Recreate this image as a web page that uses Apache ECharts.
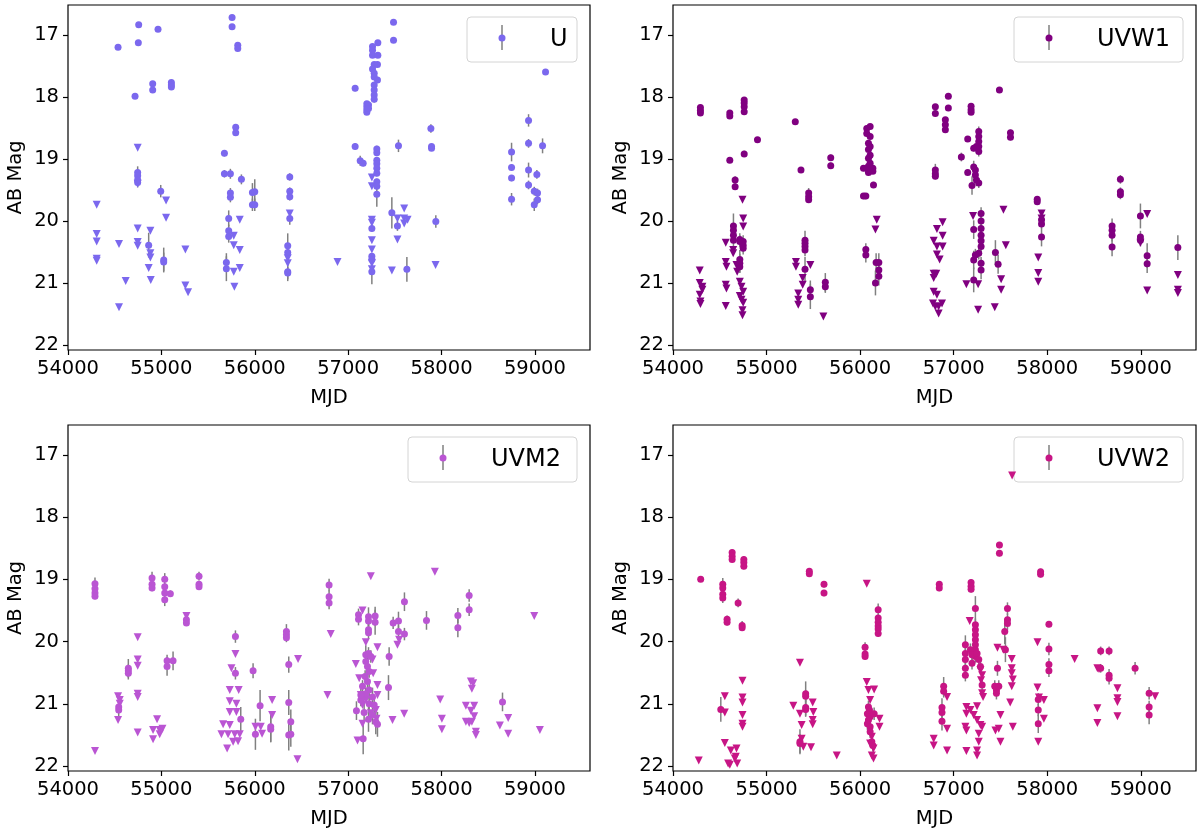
<!DOCTYPE html>
<html>
<head>
<meta charset="utf-8">
<script src="https://cdn.jsdelivr.net/npm/echarts@6/dist/echarts.min.js"></script>
<style>
  html, body { margin: 0; padding: 0; background: #fff; }
  #chart { width: 1200px; height: 835px; }
</style>
</head>
<body>
<div id="chart"></div>
<script>
// tick labels
var xTicks = [54000, 55000, 56000, 57000, 58000, 59000];
var yTicks = [17, 18, 19, 20, 21, 22];

// detections: [MJD, mag, err]   upper limits: [MJD, mag]
var U_DET = [
  [54536,17.20,0.03],[54757,16.84,0.03],[54753,17.13,0.03],[54964,16.91,0.03],[54718,17.99,0.04],
  [54907,17.79,0.04],[54907,17.89,0.04],[55107,17.77,0.03],[55107,17.81,0.03],[55107,17.84,0.03],
  [55757,16.72,0.03],[55757,16.87,0.03],[55818,17.17,0.03],[55818,17.22,0.03],[55796,18.49,0.04],
  [55796,18.58,0.04],[55675,18.91,0.05],[55675,19.24,0.06],[55739,19.24,0.08],[55857,19.33,0.08],
  [54746,19.22,0.1],[54746,19.27,0.08],[54746,19.34,0.08],[54746,19.38,0.08],[54993,19.52,0.1],
  [55739,19.55,0.08],[55739,19.62,0.08],[55975,19.54,0.15],[56000,19.53,0.2],[55975,19.74,0.1],
  [56000,19.74,0.1],[56375,19.29,0.06],[56375,19.52,0.06],[56375,19.61,0.06],[56375,19.96,0.1],
  [55721,19.96,0.13],[55721,20.16,0.1],[55721,20.25,0.1],[54864,20.39,0.2],[55025,20.63,0.2],
  [55025,20.66,0.15],[55696,20.67,0.15],[55696,20.77,0.2],[56353,20.40,0.2],[56353,20.51,0.1],
  [56353,20.82,0.15],[56353,20.84,0.1],
  [57486,16.80,0.03],[57486,17.09,0.03],[57318,17.13,0.03],[57261,17.19,0.03],[57261,17.25,0.03],
  [57261,17.33,0.03],[57318,17.33,0.03],[57314,17.48,0.03],[57279,17.48,0.03],[57261,17.55,0.03],
  [57279,17.62,0.03],[57279,17.68,0.03],[57314,17.73,0.03],[57279,17.81,0.03],[57279,17.89,0.03],
  [57279,17.97,0.03],[57279,18.04,0.05],[57075,17.86,0.05],[57200,18.11,0.04],[57200,18.16,0.04],
  [57200,18.21,0.04],[57200,18.25,0.04],[57218,18.13,0.04],[57218,18.19,0.04],[57075,18.80,0.05],
  [57129,19.03,0.08],[57161,19.07,0.05],[57307,18.84,0.05],[57307,18.90,0.05],[57307,19.02,0.05],
  [57307,19.08,0.05],[57307,19.15,0.05],[57307,19.23,0.05],[57307,19.37,0.05],[57307,19.44,0.05],
  [57307,19.57,0.2],[57539,18.79,0.1],[57886,18.51,0.07],[57893,18.80,0.04],[57893,18.83,0.04],
  [57468,19.87,0.25],[57528,20.08,0.08],[57939,20.01,0.1],[57254,20.12,0.05],[57254,20.57,0.05],
  [57254,20.62,0.05],[57254,20.82,0.2],[57629,20.78,0.2],
  [58750,18.89,0.15],[58750,19.14,0.05],[58750,19.31,0.05],[58750,19.65,0.1],[58932,18.38,0.1],
  [58932,18.75,0.07],[58932,19.18,0.12],[58932,19.42,0.07],[58993,19.52,0.07],[59028,19.55,0.07],
  [59028,19.66,0.07],[58993,19.74,0.1],[59021,19.25,0.07],[59082,18.79,0.12],[59114,17.60,0.03]
];
var U_LIM = [
  [54307,19.74],[54307,20.21],[54307,20.33],[54307,20.61],[54307,20.64],[54546,20.37],[54618,20.97],
  [54546,21.39],[54746,18.82],[54746,19.40],[54746,20.12],[54746,20.34],[54746,20.40],[54882,20.16],
  [54882,20.52],[54882,20.59],[54864,20.76],[54886,20.95],[55050,19.67],[55050,19.95],[55257,20.46],
  [55257,21.04],[55286,21.15],[55775,20.24],[55775,20.39],[55839,19.98],[55839,20.47],[55839,20.76],
  [55775,20.82],[55782,21.06],[56375,19.88],[56353,20.60],[56353,20.68],[56886,20.66],[57254,19.30],
  [57254,19.44],[57254,19.98],[57254,20.03],[57254,20.31],[57254,20.46],[57254,20.68],[57254,20.78],
  [57468,20.80],[57600,19.80],[57528,19.96],[57600,19.96],[57636,19.98],[57600,20.04],[57528,20.30],
  [57936,20.71]
];

var UVW1_DET = [
  [54293,18.17,0.03],[54293,18.22,0.03],[54293,18.26,0.03],[54607,18.26,0.03],[54607,18.31,0.03],
  [54761,18.05,0.03],[54761,18.10,0.03],[54761,18.16,0.03],[54761,18.24,0.03],[54903,18.69,0.03],
  [54607,19.02,0.04],[54761,18.92,0.05],[54664,19.34,0.06],[54664,19.45,0.05],[54646,20.08,0.2],
  [54646,20.15,0.1],[54646,20.23,0.1],[54646,20.31,0.1],[54714,20.30,0.1],[54714,20.33,0.1],
  [54750,20.33,0.1],[54750,20.39,0.1],[54750,20.44,0.1],[54714,20.62,0.15],[54714,20.68,0.15],
  [54714,20.74,0.1],[55307,18.40,0.03],[55368,19.18,0.03],[55450,19.55,0.08],[55450,19.61,0.05],
  [55450,19.66,0.05],[55686,18.98,0.05],[55686,19.11,0.05],[55411,20.31,0.15],[55411,20.36,0.1],
  [55411,20.41,0.1],[55411,20.47,0.1],[55411,20.78,0.2],[55468,21.11,0.15],[55468,21.22,0.2],
  [55628,20.99,0.15],[55628,21.06,0.1],[56036,19.15,0.05],[56071,19.15,0.05],[56036,19.60,0.05],
  [56061,19.60,0.05],[56071,18.51,0.04],[56107,18.48,0.04],[56071,18.59,0.04],[56107,18.64,0.04],
  [56089,18.75,0.04],[56107,18.80,0.04],[56089,18.85,0.04],[56107,18.94,0.04],[56089,18.99,0.04],
  [56107,19.07,0.04],[56089,19.12,0.04],[56136,19.15,0.04],[56136,19.20,0.04],[56089,19.22,0.05],
  [56143,19.42,0.05],[56061,20.46,0.1],[56061,20.55,0.12],[56164,21.00,0.2],[56171,20.67,0.15],
  [56200,20.67,0.15],[56200,20.79,0.15],[56200,20.89,0.15],
  [56804,18.16,0.04],[56804,18.27,0.04],[56943,17.99,0.03],[56943,18.18,0.03],[56911,18.37,0.04],
  [56911,18.45,0.04],[56911,18.53,0.04],[56804,19.18,0.1],[56804,19.24,0.05],[56804,19.28,0.05],
  [57186,18.15,0.04],[57186,18.21,0.04],[57186,18.25,0.04],[57150,18.68,0.04],[57268,18.56,0.08],
  [57268,18.64,0.08],[57268,18.72,0.08],[57268,18.80,0.08],[57243,18.80,0.05],[57214,18.83,0.05],
  [57268,18.88,0.08],[57082,18.97,0.07],[57150,19.22,0.04],[57214,19.13,0.1],[57232,19.18,0.08],
  [57232,19.26,0.08],[57243,19.34,0.1],[57196,19.43,0.15],[57268,19.39,0.08],[57489,17.89,0.03],
  [57607,18.58,0.05],[57607,18.65,0.05],[57893,19.65,0.05],[57893,19.69,0.05],[57939,19.98,0.07],
  [57939,20.05,0.07],[57939,20.26,0.15],[57214,20.14,0.15],[57293,19.88,0.1],[57293,20.00,0.1],
  [57293,20.12,0.1],[57293,20.23,0.1],[57293,20.32,0.1],[57293,20.41,0.1],[57268,20.52,0.1],
  [57232,20.55,0.1],[57214,20.63,0.15],[57293,20.68,0.1],[57293,20.79,0.15],[57214,20.95,0.2],
  [57446,20.51,0.2],[57475,20.70,0.15],[58693,20.08,0.12],[58693,20.15,0.1],[58693,20.23,0.1],
  [58693,20.42,0.15],[58782,19.33,0.07],[58782,19.53,0.07],[58782,19.58,0.07],[58996,19.92,0.2],
  [58996,20.26,0.1],[58996,20.31,0.1],[59068,20.56,0.2],[59068,20.69,0.15],[59396,20.43,0.2]
];
var UVW1_LIM = [
  [54286,20.80],[54286,21.00],[54314,21.06],[54314,21.11],[54286,21.19],[54293,21.30],[54293,21.34],
  [54564,20.35],[54564,20.66],[54571,20.74],[54564,21.03],[54571,21.09],[54564,21.37],[54643,20.47],
  [54643,20.52],[54679,20.71],[54686,20.82],[54743,19.66],[54750,19.96],[54750,20.09],[54714,20.98],
  [54732,21.06],[54750,21.14],[54714,21.21],[54732,21.27],[54750,21.32],[54743,21.44],[54743,21.52],
  [55314,20.66],[55314,20.74],[55339,21.17],[55339,21.27],[55339,21.35],[55386,20.92],[55386,21.03],
  [55468,20.71],[55607,21.54],[56178,19.98],[56164,20.14],
  [56882,20.02],[56821,20.13],[56882,20.24],[56786,20.32],[56821,20.41],[56882,20.41],[56821,20.54],
  [56850,20.62],[56786,20.85],[56814,20.85],[56786,20.92],[56786,21.14],[56821,21.19],[56779,21.33],
  [56804,21.38],[56839,21.38],[56839,21.49],[56875,21.33],[57136,21.02],[57207,19.92],[57261,21.02],
  [57261,21.43],[57439,21.39],[57507,20.94],[57507,21.11],[57532,19.82],[57557,20.39],[57904,20.59],
  [57904,20.84],[57904,20.98],[57939,19.88],[57939,19.96],[58996,20.35],[59068,19.89],[59068,21.12],
  [59396,20.87],[59396,21.11],[59396,21.16]
];

var UVM2_DET = [
  [54289,19.07,0.1],[54289,19.15,0.05],[54289,19.22,0.05],[54289,19.27,0.05],[54646,20.43,0.15],
  [54646,20.47,0.1],[54646,20.51,0.1],[54543,21.05,0.1],[54543,21.10,0.1],[54900,18.98,0.1],
  [54900,19.08,0.05],[54900,19.14,0.05],[55036,19.00,0.1],[55036,19.12,0.05],[55036,19.22,0.05],
  [55036,19.33,0.1],[55096,19.23,0.05],[55061,20.31,0.1],[55061,20.40,0.15],[55125,20.31,0.15],
  [55268,19.65,0.05],[55268,19.70,0.05],[55403,18.95,0.07],[55403,19.08,0.05],[55403,19.12,0.05],
  [55793,19.92,0.1],[55793,20.51,0.1],[55850,21.25,0.2],[55982,20.47,0.12],[56007,21.49,0.25],
  [56057,21.03,0.25],[56171,21.37,0.25],[56171,21.41,0.2],[56339,19.84,0.12],[56339,19.89,0.07],
  [56339,19.94,0.07],[56364,20.37,0.13],[56364,20.98,0.2],[56386,21.29,0.2],[56364,21.50,0.25],
  [56386,21.49,0.2],
  [56796,19.09,0.1],[56796,19.28,0.1],[56796,19.38,0.1],[57111,19.57,0.1],[57111,19.64,0.1],
  [57218,19.60,0.15],[57218,19.67,0.1],[57218,19.81,0.1],[57218,19.86,0.1],[57289,19.59,0.15],
  [57289,19.69,0.2],[57482,19.70,0.1],[57539,19.67,0.15],[57539,19.84,0.1],[57603,19.36,0.15],
  [57603,19.88,0.1],[57839,19.66,0.15],[58175,19.58,0.12],[58175,19.78,0.15],[58296,19.26,0.1],
  [58296,19.49,0.1],[57439,20.24,0.15],[57432,20.74,0.2],[58653,20.97,0.15],
  [57189,20.21,0.15],[57218,20.19,0.1],[57243,20.24,0.1],[57189,20.32,0.1],[57207,20.40,0.15],
  [57225,20.48,0.1],[57182,20.56,0.1],[57207,20.64,0.15],[57154,20.72,0.1],[57225,20.78,0.15],
  [57189,20.84,0.1],[57261,20.89,0.15],[57136,20.94,0.1],[57225,21.00,0.15],[57089,21.11,0.15],
  [57171,21.14,0.15],[57261,21.18,0.15],[57218,21.25,0.2],[57296,21.29,0.2],[57314,21.33,0.2],
  [57161,21.56,0.25],[57136,20.86,0.1],[57279,21.02,0.15]
];
var UVM2_LIM = [
  [54289,21.76],[54536,20.88],[54554,20.94],[54554,21.00],[54536,21.26],[54746,19.93],[54746,20.29],
  [54746,20.39],[54746,20.84],[54746,20.89],[54746,21.46],[54954,21.25],[54911,21.42],[54911,21.57],
  [54982,21.42],[55011,21.40],[54982,21.49],[55268,19.59],[55793,20.20],[55750,20.43],[55732,20.78],
  [55828,20.78],[55732,20.96],[55803,21.00],[55803,21.13],[55732,21.13],[55661,21.33],[55732,21.34],
  [55643,21.49],[55714,21.49],[55786,21.49],[55839,21.49],[55768,21.61],[55821,21.60],[55704,21.72],
  [56007,21.37],[56064,21.37],[56078,21.48],[56186,20.94],[56186,21.18],[56464,20.28],[56457,21.89],
  [56779,20.86],[56814,19.88],[57243,18.95],[57154,19.50],[57929,18.88],[58993,19.59],[57314,20.09],
  [57261,20.29],[57082,20.36],[57268,20.51],[57118,20.59],[57314,20.70],[57136,20.86],[57314,20.86],
  [57189,20.94],[57154,21.02],[57296,21.10],[57243,21.15],[57100,21.59],[57304,21.24],[57154,21.32],
  [57189,20.01],[57528,20.05],[57546,19.97],[57475,21.26],[57600,21.16],[57986,20.93],[58004,21.24],
  [58004,21.41],[58314,20.64],[58339,20.67],[58325,20.76],[58261,21.03],[58350,21.03],[58314,21.11],
  [58350,21.20],[58261,21.29],[58296,21.31],[58325,21.29],[58368,21.45],[58368,21.50],[58625,21.35],
  [58714,21.23],[58714,21.48],[59053,21.42]
];

var UVW2_DET = [
  [54296,19.00,0.03],[54532,19.08,0.1],[54532,19.14,0.05],[54532,19.24,0.05],[54532,19.30,0.08],
  [54632,18.57,0.05],[54632,18.63,0.04],[54632,18.68,0.04],[54757,18.68,0.05],[54757,18.73,0.04],
  [54757,18.79,0.05],[54696,19.38,0.07],[54578,19.64,0.06],[54578,19.69,0.05],[54739,19.74,0.07],
  [54739,19.78,0.05],[54511,21.09,0.2],[55457,18.87,0.05],[55457,18.91,0.04],[55614,19.08,0.05],
  [55614,19.22,0.05],[55418,20.84,0.2],[55418,20.88,0.1],[55418,21.06,0.15],[55418,21.09,0.1],
  [55357,21.61,0.2],[55357,21.64,0.15],[56053,20.09,0.08],[56053,20.20,0.05],[56053,20.24,0.05],
  [56193,19.49,0.1],[56193,19.62,0.05],[56193,19.69,0.05],[56193,19.75,0.05],[56193,19.80,0.05],
  [56193,19.87,0.05],[56089,21.05,0.1],[56100,21.10,0.1],[56078,21.16,0.1],[56107,21.21,0.1],
  [56089,21.26,0.1],[56078,21.32,0.1],[56107,21.37,0.1],[56107,21.45,0.1],[56125,21.61,0.1],
  [56136,21.67,0.1],[56150,21.16,0.1],
  [56846,19.08,0.05],[56846,19.14,0.05],[57186,19.05,0.05],[57186,19.11,0.05],[57186,19.16,0.05],
  [57489,18.45,0.05],[57489,18.58,0.05],[57929,18.88,0.05],[57929,18.92,0.05],[57232,19.47,0.2],
  [57232,19.73,0.1],[57232,19.81,0.1],[57232,19.89,0.1],[57232,19.97,0.1],[57232,20.05,0.1],
  [57232,20.13,0.1],[57232,20.24,0.1],[57125,20.05,0.15],[57125,20.19,0.1],[57125,20.29,0.1],
  [57125,20.43,0.1],[57125,20.54,0.1],[57179,20.13,0.1],[57196,20.21,0.1],[57196,20.35,0.1],
  [57250,20.19,0.1],[57268,20.29,0.1],[57286,20.40,0.1],[57575,19.47,0.1],[57575,19.65,0.1],
  [57575,19.71,0.1],[57546,19.84,0.2],[57468,20.43,0.12],[57439,20.72,0.1],[57457,20.78,0.1],
  [57482,20.72,0.1],[57457,20.83,0.1],[57553,20.13,0.2],[58018,19.72,0.05],[58018,20.12,0.1],
  [58018,20.37,0.1],[58018,20.47,0.1],[57904,20.93,0.1],[57904,21.10,0.1],[57904,21.32,0.15],
  [56893,20.72,0.15],[56893,20.80,0.1],[56875,21.06,0.15],[56875,21.14,0.1],[56875,21.28,0.15],
  [58571,20.15,0.07],[58661,20.15,0.07],[58571,20.43,0.07],[58661,20.54,0.1],[58661,20.59,0.1],
  [58939,20.43,0.1],[59089,20.83,0.1],[59089,21.05,0.1],[59089,21.18,0.15],[57304,20.70,0.1]
];
var UVW2_LIM = [
  [54275,21.91],[54554,20.88],[54554,21.14],[54554,21.63],[54618,21.75],[54607,21.98],[54589,21.96],
  [54679,21.72],[54671,21.85],[54686,21.96],[54661,21.88],[54743,20.63],[54743,20.90],[54743,20.98],
  [54743,21.18],[54743,21.32],[54743,21.37],[55357,20.34],[55286,21.03],[55357,21.16],[55375,21.34],
  [55375,21.56],[55393,21.69],[55493,20.98],[55500,21.13],[55493,21.26],[55493,21.33],[55475,21.70],
  [55750,21.83],[56071,19.07],[56071,20.65],[56089,20.78],[56107,20.94],[56150,20.77],[56125,21.53],
  [56107,21.64],[56143,21.72],[56125,21.83],[56143,21.88],[56207,21.24],[56207,21.37],
  [57625,17.33],[56786,21.56],[56786,21.67],[56929,20.89],[56929,21.40],[56929,21.75],[57136,21.05],
  [57136,21.16],[57125,21.37],[57136,21.43],[57136,21.76],[57171,19.67],[57179,21.10],[57214,21.18],
  [57250,21.04],[57250,21.26],[57286,21.34],[57304,21.37],[57268,21.48],[57268,21.61],[57250,21.75],
  [57250,21.83],[57286,20.46],[57304,20.54],[57293,20.62],[57304,20.83],[57314,20.89],[57468,20.10],
  [57532,20.13],[57621,20.28],[57621,20.43],[57621,20.51],[57632,20.61],[57621,20.72],[57604,20.98],
  [57500,21.18],[57482,21.40],[57446,21.43],[57500,21.61],[57632,21.37],[57896,20.01],[57896,20.74],
  [57911,20.90],[57964,20.94],[57964,21.24],[57904,21.61],[58293,20.28],[58536,20.43],[58553,20.44],
  [58536,21.07],[58536,21.31],[58750,20.75],[58750,20.91],[58750,20.97],[58750,21.20],[59153,20.88]
];

var panels = [
  { name: 'U',    color: '#7B68EE', det: U_DET,    lim: U_LIM },
  { name: 'UVW1', color: '#800080', det: UVW1_DET, lim: UVW1_LIM },
  { name: 'UVM2', color: '#BA55D3', det: UVM2_DET, lim: UVM2_LIM },
  { name: 'UVW2', color: '#C71585', det: UVW2_DET, lim: UVW2_LIM }
];

var FONT = 'DejaVu Sans';
var grids = [
  { left: 68,  top: 5,   width: 522, height: 345 },
  { left: 673, top: 5,   width: 523, height: 345 },
  { left: 68,  top: 425, width: 522, height: 346 },
  { left: 673, top: 425, width: 523, height: 346 }
];

function errBar(params, api) {
  var x = api.value(0), y = api.value(1), e = api.value(2);
  var p1 = api.coord([x, y - e]);
  var p2 = api.coord([x, y + e]);
  return {
    type: 'line',
    shape: { x1: p1[0], y1: p1[1], x2: p2[0], y2: p2[1] },
    style: { stroke: '#808080', lineWidth: 1.5 }
  };
}

function plain(v) { return String(v); }

var xAxes = [], yAxes = [], series = [], graphics = [];
panels.forEach(function (p, i) {
  var g = grids[i];
  g.show = true;
  g.borderColor = '#000';
  g.borderWidth = 1.2;
  g.backgroundColor = 'transparent';

  xAxes.push({
    type: 'value', gridIndex: i, min: 54000, max: 59590,
    name: 'MJD', nameLocation: 'middle', nameGap: 38,
    nameTextStyle: { fontSize: 19.5, color: '#000', fontFamily: FONT },
    axisLine: { show: false },
    axisTick: { show: true, length: 5, lineStyle: { color: '#000', width: 1.2 }, customValues: xTicks },
    axisLabel: { customValues: xTicks, formatter: plain, fontSize: 19.5, color: '#000', fontFamily: FONT, margin: 9 },
    splitLine: { show: false }
  });
  yAxes.push({
    type: 'value', gridIndex: i, min: 16.52, max: 22.08, inverse: true,
    name: 'AB Mag', nameLocation: 'middle', nameGap: 42, nameRotate: 90,
    nameTextStyle: { fontSize: 19.5, color: '#000', fontFamily: FONT },
    axisLine: { show: false },
    axisTick: { show: true, length: 5, lineStyle: { color: '#000', width: 1.2 }, customValues: yTicks },
    axisLabel: { customValues: yTicks, formatter: plain, fontSize: 19.5, color: '#000', fontFamily: FONT, margin: 9 },
    splitLine: { show: false }
  });

  series.push({
    type: 'custom', xAxisIndex: i, yAxisIndex: i, renderItem: errBar,
    data: p.det, encode: { x: 0, y: 1 }, z: 2, silent: true
  });
  series.push({
    type: 'scatter', xAxisIndex: i, yAxisIndex: i, data: p.lim,
    symbol: 'triangle', symbolRotate: 180, symbolSize: 8,
    itemStyle: { color: p.color, opacity: 1 }, z: 3, silent: true
  });
  series.push({
    type: 'scatter', xAxisIndex: i, yAxisIndex: i,
    data: p.det.map(function (d) { return [d[0], d[1]]; }),
    symbol: 'circle', symbolSize: 7,
    itemStyle: { color: p.color, opacity: 1 }, z: 4, silent: true
  });

  // legend box (errorbar style handle)
  var boxW = p.name.length > 1 ? 169 : 110;
  var right = g.left + g.width - 13;
  var bx = right - boxW, by = g.top + 12;
  graphics.push({
    type: 'group', z: 100, silent: true,
    children: [
      { type: 'rect', shape: { x: bx, y: by, width: boxW, height: 45, r: 4 },
        style: { fill: 'rgba(255,255,255,0.8)', stroke: '#d4d4d4', lineWidth: 1 } },
      { type: 'line', shape: { x1: bx + 35, y1: by + 8, x2: bx + 35, y2: by + 33 },
        style: { stroke: '#808080', lineWidth: 1.5 } },
      { type: 'circle', shape: { cx: bx + 35, cy: by + 21, r: 3.5 }, style: { fill: p.color } },
      { type: 'text', x: bx + 83, y: by + 23,
        style: { text: p.name, fill: '#000', fontSize: 24, fontFamily: FONT, verticalAlign: 'middle' } }
    ]
  });
});

var chart = echarts.init(document.getElementById('chart'), null, { renderer: 'canvas' });
chart.setOption({
  animation: false,
  backgroundColor: '#fff',
  grid: grids,
  xAxis: xAxes,
  yAxis: yAxes,
  series: series,
  graphic: graphics
});
</script>
</body>
</html>
